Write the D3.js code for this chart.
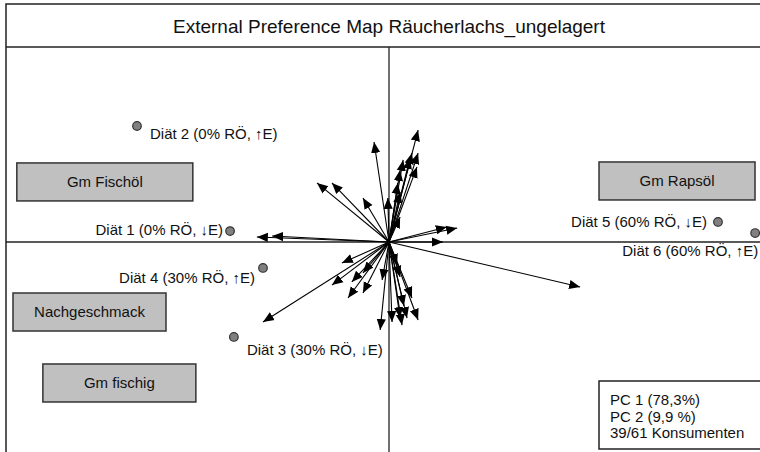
<!DOCTYPE html>
<html>
<head>
<meta charset="utf-8">
<script src="https://cdn.jsdelivr.net/npm/d3@7"></script>
<style>
  html, body { margin: 0; padding: 0; background: #fff; }
  svg { display: block; font-family: "Liberation Sans", Arial, sans-serif; }
</style>
</head>
<body>
<svg id="chart" width="760" height="452"></svg>
<script>
// ---- data ----
const title = "External Preference Map Räucherlachs_ungelagert";

const productLabels = ["Diät 1 (0% RÖ, ↓E)", "Diät 2 (0% RÖ, ↑E)", "Diät 3 (30% RÖ, ↓E)",
                       "Diät 4 (30% RÖ, ↑E)", "Diät 5 (60% RÖ, ↓E)", "Diät 6 (60% RÖ, ↑E)"];
const productPC1 = [-0.415, -0.658, -0.405, -0.329, 0.859, 0.956];
const productPC2 = [0.056, 0.595, -0.487, -0.133, 0.103, 0.046];

const attributeLabels = ["Gm Fischöl", "Gm Rapsöl", "Nachgeschmack", "Gm fischig"];
const attributePC1 = [-0.742, 0.752, -0.782, -0.704];
const attributePC2 = [0.308, 0.313, -0.359, -0.723];

const consumerPC1 = [0.076, 0.060, 0.076, 0.037, 0.055, 0.073, 0.029, 0.023, 0.029, -0.003, 0.029,
                     -0.039, -0.188, -0.149, -0.068,
                     -0.345, -0.305,
                     0.141, 0.151, 0.178, 0.499,
                     -0.123, -0.149, -0.107, -0.097, -0.068, -0.068, -0.023, -0.018, 0.008, 0.029,
                     0.034, 0.047, 0.076, 0.060, 0.029, 0.021, -0.329, 0.039];
const consumerPC2 = [0.574, 0.456, 0.456, 0.421, 0.431, 0.385, 0.369, 0.303, 0.256, 0.226, 0.128,
                     0.513, 0.303, 0.303, 0.226,
                     0.026, 0.031,
                     0.000, 0.077, 0.072, -0.231,
                     -0.108, -0.221, -0.287, -0.205, -0.159, -0.262, -0.451, -0.195, -0.410, -0.390,
                     -0.426, -0.390, -0.400, -0.287, -0.179, -0.118, -0.410, -0.328];

const legendLines = ["PC 1 (78,3%)", "PC 2 (9,9 %)", "39/61 Konsumenten"];

// ---- layout / style ----
const svg = d3.select("#chart");
const frame = { left: 6, top: 4, right: 772, titleBottom: 47, bottom: 470 };
const x = d3.scaleLinear().domain([-1, 1]).range([frame.left, frame.right]);
const y = d3.scaleLinear().domain([-1.1, 1]).range([456.5, frame.titleBottom]);

// label offsets relative to point (style)
const labelStyle = [
  { dx: -7, dy: 4, anchor: "end" },
  { dx: 13, dy: 13, anchor: "start" },
  { dx: 13, dy: 18, anchor: "start" },
  { dx: -8, dy: 15, anchor: "end" },
  { dx: -11, dy: 5, anchor: "end" },
  { dx: 3, dy: 23, anchor: "end" }
];
const boxWidths = [176, 156, 153, 153];
const boxHeight = 38;

const defs = svg.append("defs");
defs.append("marker")
  .attr("id", "arrow")
  .attr("markerUnits", "userSpaceOnUse")
  .attr("viewBox", "0 -5 10 10")
  .attr("refX", 10).attr("refY", 0)
  .attr("markerWidth", 11).attr("markerHeight", 11)
  .attr("orient", "auto")
  .append("path")
  .attr("d", "M0,-4.2L10,0L0,4.2Z")
  .attr("fill", "#000");

// frame
svg.append("rect")
  .attr("x", frame.left).attr("y", frame.top)
  .attr("width", frame.right - frame.left).attr("height", frame.bottom - frame.top)
  .attr("fill", "#fff").attr("stroke", "#222").attr("stroke-width", 1.5);
svg.append("line")
  .attr("x1", frame.left).attr("x2", frame.right)
  .attr("y1", frame.titleBottom).attr("y2", frame.titleBottom)
  .attr("stroke", "#222").attr("stroke-width", 1.5);
svg.append("text")
  .attr("x", (frame.left + frame.right) / 2).attr("y", 33)
  .attr("text-anchor", "middle")
  .attr("font-size", 19).attr("fill", "#111")
  .text(title);

// axes through origin
svg.append("line")
  .attr("x1", frame.left).attr("x2", frame.right)
  .attr("y1", y(0)).attr("y2", y(0))
  .attr("stroke", "#222").attr("stroke-width", 1.3);
svg.append("line")
  .attr("x1", x(0)).attr("x2", x(0))
  .attr("y1", frame.titleBottom).attr("y2", frame.bottom)
  .attr("stroke", "#222").attr("stroke-width", 1.3);

// consumer vectors
svg.append("g").selectAll("line")
  .data(d3.range(consumerPC1.length))
  .join("line")
  .attr("x1", x(0)).attr("y1", y(0))
  .attr("x2", i => x(consumerPC1[i])).attr("y2", i => y(consumerPC2[i]))
  .attr("stroke", "#000").attr("stroke-width", 1.1)
  .attr("marker-end", "url(#arrow)");

// attribute boxes
const ag = svg.append("g").selectAll("g")
  .data(d3.range(attributeLabels.length))
  .join("g");
ag.append("rect")
  .attr("x", i => x(attributePC1[i]) - boxWidths[i] / 2)
  .attr("y", i => y(attributePC2[i]) - boxHeight / 2)
  .attr("width", i => boxWidths[i]).attr("height", boxHeight)
  .attr("fill", "#c0c0c0").attr("stroke", "#333").attr("stroke-width", 1.5);
ag.append("text")
  .attr("x", i => x(attributePC1[i])).attr("y", i => y(attributePC2[i]) + 5)
  .attr("text-anchor", "middle").attr("font-size", 15).attr("fill", "#111")
  .text(i => attributeLabels[i]);

// products
const pg = svg.append("g").selectAll("g")
  .data(d3.range(productLabels.length))
  .join("g");
pg.append("circle")
  .attr("cx", i => x(productPC1[i])).attr("cy", i => y(productPC2[i]))
  .attr("r", 4.3)
  .attr("fill", "#808080").attr("stroke", "#333").attr("stroke-width", 1.2);
pg.append("text")
  .attr("x", i => x(productPC1[i]) + labelStyle[i].dx)
  .attr("y", i => y(productPC2[i]) + labelStyle[i].dy)
  .attr("text-anchor", i => labelStyle[i].anchor)
  .attr("font-size", 15).attr("fill", "#111")
  .text(i => productLabels[i]);

// legend box
svg.append("rect")
  .attr("x", 599).attr("y", 381).attr("width", 175).attr("height", 68)
  .attr("fill", "#fff").attr("stroke", "#222").attr("stroke-width", 1.5);
svg.append("g").selectAll("text")
  .data(legendLines)
  .join("text")
  .attr("x", 610).attr("y", (d, i) => 405 + i * 16.5)
  .attr("font-size", 15).attr("fill", "#111")
  .text(d => d);
</script>
</body>
</html>
